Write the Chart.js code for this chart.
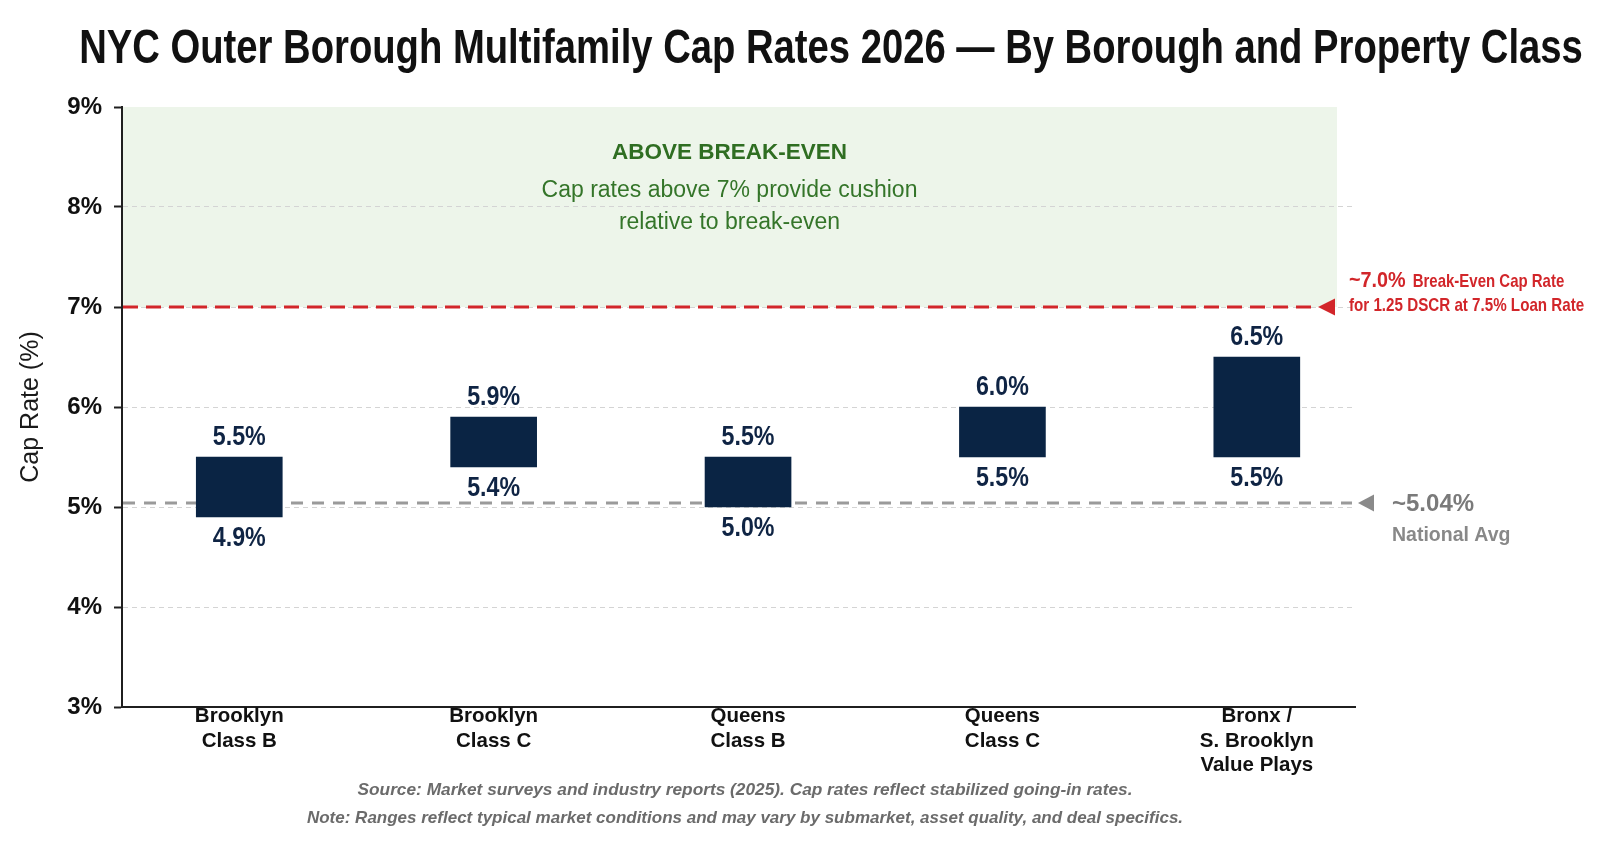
<!DOCTYPE html>
<html>
<head>
<meta charset="utf-8">
<script src="https://cdn.jsdelivr.net/npm/chart.js@4.4.1/dist/chart.umd.min.js"></script>
<style>
  html, body { margin: 0; padding: 0; background: #ffffff; }
  canvas { display: block; }
</style>
</head>
<body>
<canvas id="c" width="1600" height="841"></canvas>
<script>
// ---------- DATA ----------
const CATEGORIES = [
  ['Brooklyn', 'Class B'],
  ['Brooklyn', 'Class C'],
  ['Queens', 'Class B'],
  ['Queens', 'Class C'],
  ['Bronx /', 'S. Brooklyn', 'Value Plays']
];
const CAP_LOW  = [4.9, 5.4, 5.0, 5.5, 5.5];
const CAP_HIGH = [5.5, 5.9, 5.5, 6.0, 6.5];
const Y_TICKS = [3, 4, 5, 6, 7, 8, 9];
const BREAK_EVEN = 7.0;
const NATIONAL_AVG = 5.04;
const BAND = [7, 9];

const TITLE = 'NYC Outer Borough Multifamily Cap Rates 2026 \u2014 By Borough and Property Class';
const BAND_HEAD = 'ABOVE BREAK-EVEN';
const BAND_TEXT = ['Cap rates above 7% provide cushion', 'relative to break-even'];
const BE_LABEL = ['~7.0%', 'Break-Even Cap Rate', 'for 1.25 DSCR at 7.5% Loan Rate'];
const AVG_LABEL = ['~5.04%', 'National Avg'];
const NOTES = [
  'Source: Market surveys and industry reports (2025). Cap rates reflect stabilized going-in rates.',
  'Note: Ranges reflect typical market conditions and may vary by submarket, asset quality, and deal specifics.'
];

// ---------- STYLE ----------
const SANS = '"Liberation Sans", Arial, Helvetica, sans-serif';
const NAVY = '#0a2444';
const RED = '#d2262a';
const GREY = '#9a9a9a';

const fmt = v => v.toFixed(1) + '%';

// draw text horizontally condensed (narrow face look)
function condensed(ctx, text, x, y, font, sx, align) {
  ctx.save();
  ctx.font = font;
  ctx.textAlign = align || 'left';
  ctx.textBaseline = 'alphabetic';
  ctx.translate(x, y);
  ctx.scale(sx, 1);
  ctx.fillText(text, 0, 0);
  const w = ctx.measureText(text).width * sx;
  ctx.restore();
  return w;
}

const deco = {
  id: 'deco',
  beforeDraw(chart) {
    const { ctx, chartArea: a, scales: { y } } = chart;
    ctx.save();
    ctx.fillStyle = '#ffffff';
    ctx.fillRect(0, 0, chart.width, chart.height);
    const yt = y.getPixelForValue(BAND[1]);
    const yb = y.getPixelForValue(BAND[0]);
    ctx.fillStyle = '#edf5ea';
    ctx.fillRect(a.left, yt, (a.right - 18) - a.left, yb - yt);
    ctx.restore();
  },
  beforeDatasetsDraw(chart) {
    const { ctx, chartArea: a, scales: { y } } = chart;
    ctx.save();
    ctx.lineWidth = 3;
    let py = y.getPixelForValue(NATIONAL_AVG);
    ctx.strokeStyle = GREY;
    ctx.setLineDash([12, 9]);
    ctx.beginPath(); ctx.moveTo(a.left + 1, py); ctx.lineTo(a.right - 3, py); ctx.stroke();
    py = y.getPixelForValue(BREAK_EVEN);
    ctx.strokeStyle = RED;
    ctx.setLineDash([15, 8]);
    ctx.beginPath(); ctx.moveTo(a.left + 1, py); ctx.lineTo(a.right - 38, py); ctx.stroke();
    ctx.restore();
  },
  afterDatasetsDraw(chart) {
    const { ctx } = chart;
    const meta = chart.getDatasetMeta(0);
    ctx.save();
    ctx.fillStyle = '#0f2444';
    meta.data.forEach((el, i) => {
      const top = Math.min(el.y, el.base);
      const bot = Math.max(el.y, el.base);
      condensed(ctx, fmt(CAP_HIGH[i]), el.x, top - 12, 'bold 27px ' + SANS, 0.86, 'center');
      condensed(ctx, fmt(CAP_LOW[i]), el.x, bot + 29, 'bold 27px ' + SANS, 0.86, 'center');
    });
    ctx.restore();
  },
  afterDraw(chart) {
    const { ctx, chartArea: a, scales: { y } } = chart;
    ctx.save();
    // Title
    ctx.fillStyle = '#111111';
    condensed(ctx, TITLE, 831, 63, 'bold 49px ' + SANS, 0.78, 'center');

    // Band text
    const bandTop = y.getPixelForValue(BAND[1]);
    const bandCx = (a.left + a.right - 18) / 2;
    ctx.textAlign = 'center';
    ctx.textBaseline = 'alphabetic';
    ctx.fillStyle = '#2f6e22';
    ctx.font = 'bold 22.5px ' + SANS;
    ctx.fillText(BAND_HEAD, bandCx, bandTop + 52);
    ctx.fillStyle = '#347529';
    ctx.font = '23px ' + SANS;
    ctx.fillText(BAND_TEXT[0], bandCx, bandTop + 90);
    ctx.fillText(BAND_TEXT[1], bandCx, bandTop + 122);

    // Break-even marker + label
    const pbe = y.getPixelForValue(BREAK_EVEN);
    ctx.fillStyle = RED;
    ctx.beginPath();
    ctx.moveTo(a.right - 37, pbe);
    ctx.lineTo(a.right - 20, pbe - 8.5);
    ctx.lineTo(a.right - 20, pbe + 8.5);
    ctx.closePath(); ctx.fill();
    const lx = a.right - 6;
    const w = condensed(ctx, BE_LABEL[0], lx, pbe - 20, 'bold 22px ' + SANS, 0.9, 'left');
    condensed(ctx, BE_LABEL[1], lx + w + 7, pbe - 20, 'bold 18.5px ' + SANS, 0.81, 'left');
    condensed(ctx, BE_LABEL[2], lx, pbe + 4, 'bold 18.5px ' + SANS, 0.82, 'left');

    // National average marker + label
    const pav = y.getPixelForValue(NATIONAL_AVG);
    ctx.fillStyle = '#8a8a8a';
    ctx.beginPath();
    ctx.moveTo(a.right + 3, pav);
    ctx.lineTo(a.right + 19, pav - 8.5);
    ctx.lineTo(a.right + 19, pav + 8.5);
    ctx.closePath(); ctx.fill();
    ctx.textAlign = 'left';
    ctx.fillStyle = '#7a7a7a';
    ctx.font = 'bold 24px ' + SANS;
    ctx.fillText(AVG_LABEL[0], a.right + 37, pav + 8);
    ctx.fillStyle = '#888888';
    ctx.font = 'bold 19.5px ' + SANS;
    ctx.fillText(AVG_LABEL[1], a.right + 37, pav + 38);

    // Notes
    ctx.textAlign = 'center';
    ctx.fillStyle = '#6b6b6b';
    ctx.font = 'italic bold 17.3px ' + SANS;
    ctx.fillText(NOTES[0], 745, 795);
    ctx.font = 'italic bold 17px ' + SANS;
    ctx.fillText(NOTES[1], 745, 823);
    ctx.restore();
  }
};

new Chart(document.getElementById('c'), {
  type: 'bar',
  data: {
    datasets: [{
      data: CAP_LOW.map((lo, i) => ({ x: i, y: [lo, CAP_HIGH[i]] })),
      backgroundColor: NAVY,
      borderWidth: 0,
      barThickness: 86
    }]
  },
  options: {
    responsive: false,
    animation: false,
    devicePixelRatio: 1,
    layout: { padding: { top: 107, right: 245, bottom: 0, left: 0 } },
    plugins: {
      legend: { display: false },
      tooltip: { enabled: false },
      title: { display: false }
    },
    scales: {
      x: {
        type: 'linear',
        offset: false,
        min: -0.461,
        max: 4.386,
        afterBuildTicks: s => { s.ticks = CATEGORIES.map((_, i) => ({ value: i })); },
        afterFit: s => { s.height = 134; },
        grid: { display: false, drawTicks: false, offset: false },
        border: { display: true, color: '#1f1f1f', width: 2 },
        ticks: {
          autoSkip: false,
          maxRotation: 0,
          padding: -3,
          color: '#111111',
          font: { family: SANS, weight: 'bold', size: 20.5, lineHeight: 1.2 },
          callback: v => CATEGORIES[v]
        }
      },
      y: {
        min: 3,
        max: 9,
        afterBuildTicks: s => { s.ticks = Y_TICKS.map(v => ({ value: v })); },
        afterFit: s => { s.width = 122; },
        grid: {
          color: c => (c.tick && (c.tick.value === 3 || c.tick.value === 9)) ? 'rgba(0,0,0,0)' : '#d4d4d4',
          lineWidth: 1,
          drawTicks: true,
          tickLength: 8,
          tickColor: '#1f1f1f',
          tickWidth: 2
        },
        border: { display: true, color: '#1f1f1f', width: 2, dash: [5, 4] },
        ticks: {
          padding: 12,
          color: '#111111',
          font: { family: SANS, weight: 'bold', size: 24 },
          callback: v => v + '%'
        },
        title: {
          display: true,
          text: 'Cap Rate (%)',
          color: '#1a1a1a',
          font: { family: SANS, size: 25 },
          padding: { top: 16, bottom: 0 }
        }
      }
    }
  },
  plugins: [deco]
});
</script>
</body>
</html>
